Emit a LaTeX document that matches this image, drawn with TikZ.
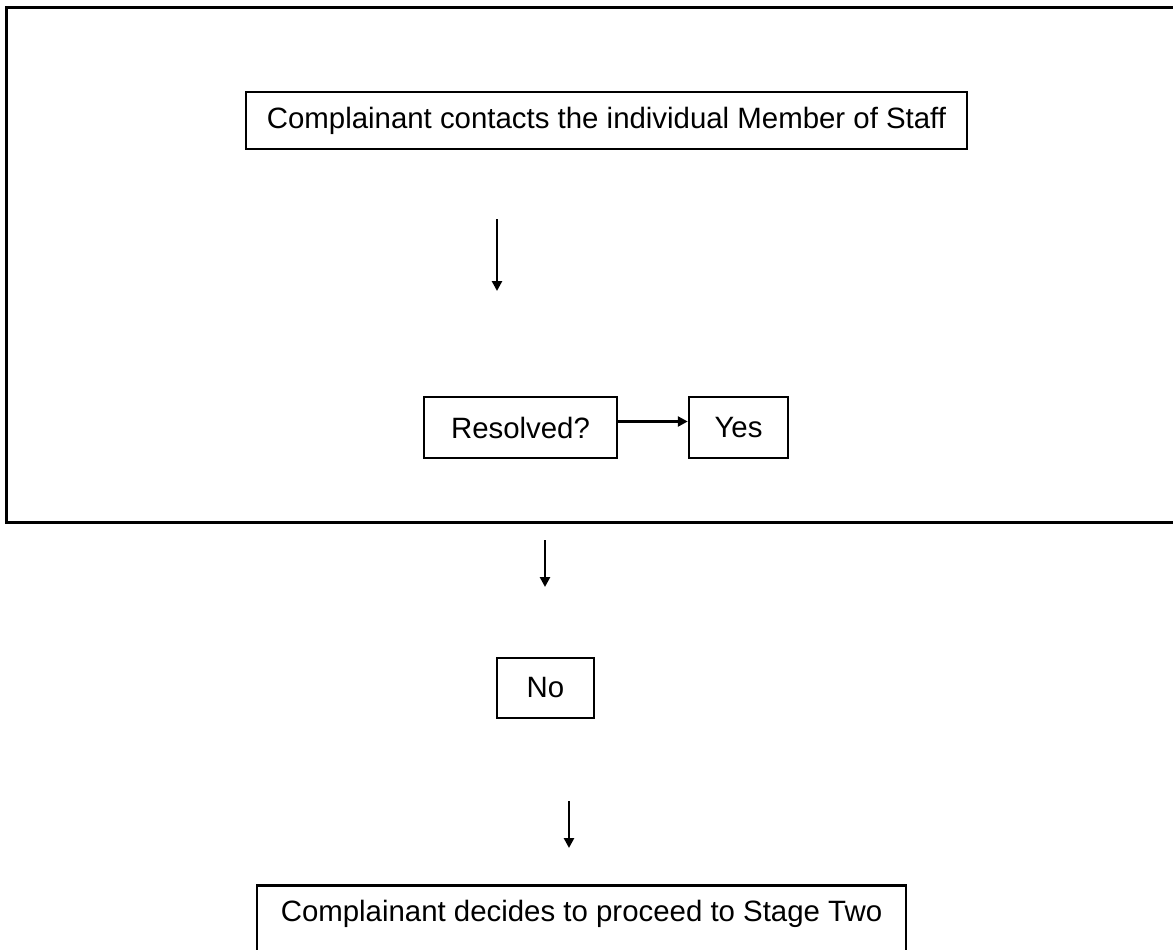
\documentclass[tikz,border=0pt]{standalone}
\usepackage{fontspec}
\setmainfont{Liberation Sans}
\usetikzlibrary{arrows.meta}
\begin{document}
\begin{tikzpicture}[x=1pt,y=1pt,
  box/.style={draw=black, line width=2.5pt, inner sep=0pt, font=\fontsize{29.4}{34}\selectfont},
  arr/.style={line width=2.6pt, -{Triangle[length=10pt,width=10pt]}}]
\useasboundingbox (0,0) rectangle (1173,-950);
\fill[white] (0,0) rectangle (1173,-950);
% outer frame (right side beyond the page)
\draw[line width=3pt] (1180,-8) -- (6,-8) -- (6,-522) -- (1180,-522);
% nodes
\node[box, minimum width=721pt, minimum height=57pt] (top) at (606.5,-120.5) {Complainant contacts the individual Member of Staff};
\node[box, minimum width=193pt, minimum height=61pt] (res) at (520.5,-427.5) {Resolved?};
\node[box, minimum width=99pt, minimum height=61pt] (yes) at (738.5,-427.5) {Yes};
\node[box, minimum width=97pt, minimum height=60pt] (no) at (545.5,-688) {No};
\node[box, anchor=north, minimum width=649pt, text height=36pt, text depth=40pt] (stage) at (581.5,-884) {Complainant decides to proceed to Stage Two};
% free arrow ends
\coordinate (a1s) at (497,-219);
\coordinate (a1e) at (497,-291);
\coordinate (a3s) at (545,-540);
\coordinate (a3e) at (545,-587);
\coordinate (a4s) at (569,-801);
\coordinate (a4e) at (569,-848);
% connectors
\draw[arr] (a1s) -- (a1e);
\draw[arr] ([yshift=6pt]res.east) -- ([yshift=6pt]yes.west);
\draw[arr] (a3s) -- (a3e);
\draw[arr] (a4s) -- (a4e);
\end{tikzpicture}
\end{document}
